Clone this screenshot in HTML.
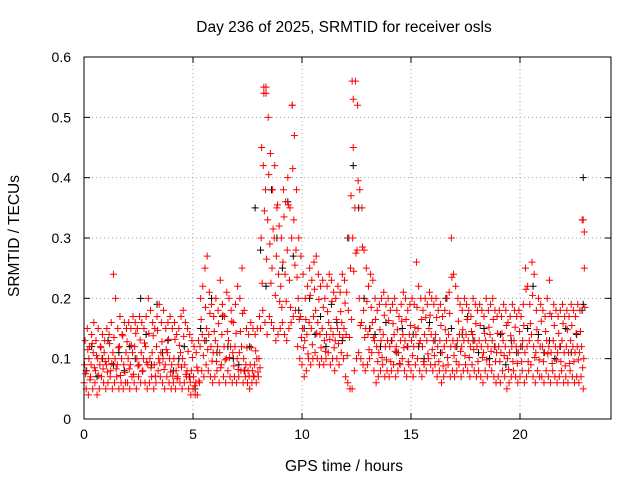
<!DOCTYPE html>
<html><head><meta charset="utf-8"><style>
body{margin:0;background:#fff}
svg{display:block;font-family:"Liberation Sans",sans-serif}
</style></head><body>
<svg id="chart" width="640" height="480" viewBox="0 0 640 480">
<rect width="640" height="480" fill="#fff"/>
<text x="344" y="32" font-size="15.5" text-anchor="middle">Day 236 of 2025, SRMTID for receiver osls</text>
<text x="344" y="471" font-size="15.5" text-anchor="middle">GPS time / hours</text>
<text x="0" y="0" font-size="15.5" text-anchor="middle" transform="translate(19,236) rotate(-90)">SRMTID / TECUs</text>
<g id="grid"></g>
<g id="axes"></g>
<g id="black" stroke="#000" stroke-width="1"></g>
<g id="red" stroke="#f00" stroke-width="1"></g>
<rect x="84" y="57" width="527" height="362" fill="none" stroke="#000" stroke-width="1"/>
</svg>
<script>
const xTicks=[0,5,10,15,20];
const yTicks=[0,0.1,0.2,0.3,0.4,0.5,0.6];
const yTickLabels=["0","0.1","0.2","0.3","0.4","0.5","0.6"];
const redLow=[.06,.05,.04,.07,.05,.06,.04,.05,.07,.06,
.05,.06,.07,.05,.06,.07,.05,.06,.05,.06,
.06,.05,.07,.06,.05,.07,.06,.08,.06,.05,
.06,.07,.05,.06,.08,.07,.06,.05,.07,.06,
.05,.06,.05,.07,.06,.05,.06,.07,.05,.04,
.05,.04,.04,.06,.08,.07,.09,.08,.07,.06,
.07,.08,.06,.09,.07,.06,.08,.07,.06,.07,
.06,.07,.08,.06,.07,.06,.05,.06,.07,.06,
.07,.15,.18,.16,.14,.17,.16,.15,.13,.14,
.15,.16,.14,.13,.15,.16,.17,.18,.12,.10,
.09,.07,.08,.10,.09,.10,.11,.10,.09,.10,
.09,.10,.11,.09,.10,.08,.10,.09,.11,.10,
.07,.06,.05,.05,.08,.10,.11,.10,.09,.08,
.09,.10,.11,.08,.06,.07,.08,.09,.07,.08,
.07,.08,.09,.07,.08,.09,.10,.08,.07,.09,
.08,.07,.09,.10,.08,.07,.09,.08,.10,.09,
.08,.09,.07,.08,.06,.07,.08,.09,.07,.08,
.07,.08,.09,.07,.08,.09,.08,.07,.09,.08,
.07,.08,.07,.06,.08,.07,.09,.08,.07,.06,
.07,.06,.08,.07,.05,.06,.07,.08,.07,.06,
.07,.08,.06,.07,.08,.09,.07,.06,.08,.07,
.07,.06,.08,.07,.06,.08,.07,.06,.07,.08,
.06,.07,.06,.08,.07,.06,.07,.06,.07,.05];
const redMid=[.09,.08,.10,.09,.11,.08,.10,.09,.10,.11,
.09,.10,.08,.11,.10,.09,.12,.10,.09,.11,
.10,.09,.11,.12,.10,.09,.11,.10,.12,.09,
.10,.11,.09,.12,.10,.11,.10,.09,.11,.10,
.09,.10,.08,.09,.11,.10,.09,.08,.07,.08,
.07,.06,.08,.12,.14,.13,.15,.14,.12,.11,
.13,.12,.11,.14,.12,.10,.13,.12,.11,.12,
.10,.11,.12,.10,.09,.08,.09,.08,.09,.10,
.10,.30,.42,.38,.33,.29,.25,.30,.27,.24,
.22,.26,.24,.28,.23,.30,.33,.28,.20,.17,
.15,.13,.14,.16,.15,.17,.18,.16,.14,.15,
.13,.14,.16,.15,.14,.13,.15,.14,.16,.15,
.14,.18,.25,.30,.35,.28,.20,.16,.18,.15,
.14,.15,.16,.13,.12,.11,.13,.14,.12,.13,
.12,.13,.14,.12,.11,.13,.14,.13,.12,.14,
.13,.12,.14,.15,.13,.12,.14,.13,.15,.14,
.13,.14,.12,.13,.11,.12,.13,.14,.12,.13,
.12,.13,.14,.12,.13,.14,.13,.12,.14,.13,
.12,.13,.12,.11,.13,.12,.14,.13,.12,.11,
.12,.11,.13,.12,.10,.11,.12,.13,.12,.11,
.12,.13,.11,.12,.13,.14,.12,.11,.13,.12,
.12,.11,.13,.12,.11,.13,.12,.11,.12,.13,
.11,.12,.11,.13,.12,.11,.12,.11,.12,.10];
const redHigh=[.13,.15,.12,.14,.16,.13,.15,.12,.14,.13,
.15,.14,.16,.24,.20,.15,.17,.14,.16,.15,
.16,.15,.17,.16,.15,.17,.16,.15,.17,.20,
.18,.16,.15,.17,.19,.16,.18,.15,.16,.17,
.15,.16,.14,.15,.17,.18,.16,.15,.14,.13,
.12,.11,.13,.20,.22,.25,.27,.21,.19,.17,
.20,.18,.23,.19,.17,.21,.20,.18,.16,.19,
.22,.20,.25,.18,.15,.14,.16,.15,.14,.15,
.17,.45,.55,.54,.50,.44,.38,.42,.35,.32,
.30,.38,.36,.40,.35,.52,.47,.38,.30,.27,
.24,.20,.22,.25,.23,.26,.27,.24,.22,.23,
.20,.22,.24,.23,.21,.20,.22,.21,.24,.23,
.21,.30,.37,.45,.56,.52,.38,.35,.28,.25,
.22,.24,.23,.20,.18,.19,.20,.21,.19,.20,
.18,.19,.20,.18,.17,.19,.21,.20,.18,.19,
.20,.19,.26,.22,.20,.18,.20,.19,.21,.20,
.19,.20,.18,.19,.17,.18,.20,.21,.30,.24,
.22,.20,.19,.18,.20,.19,.18,.17,.20,.19,
.18,.19,.18,.17,.20,.18,.19,.20,.18,.17,
.18,.17,.19,.18,.16,.17,.19,.18,.17,.18,
.17,.19,.25,.22,.19,.26,.24,.18,.20,.19,
.18,.17,.20,.23,.17,.19,.18,.17,.18,.19,
.17,.18,.17,.19,.18,.17,.19,.18,.33,.25];
const redQ=[.075,.115,.065,.125,.085,.105,.072,.118,.083,.095,
.078,.125,.092,.135,.083,.118,.072,.138,.077,.128,
.083,.122,.074,.142,.088,.131,.079,.126,.094,.142,
.085,.138,.071,.147,.093,.128,.082,.115,.132,.078,
.071,.132,.067,.122,.086,.137,.074,.112,.061,.102,
.055,.086,.063,.165,.105,.185,.115,.175,.096,.145,
.095,.158,.085,.172,.098,.145,.102,.162,.088,.142,
.082,.145,.175,.081,.118,.071,.118,.071,.113,.078,
.085,.225,.345,.265,.405,.225,.315,.205,.355,.195,
.185,.335,.195,.355,.185,.415,.255,.235,.165,.135,
.118,.165,.108,.205,.123,.215,.142,.198,.118,.185,
.112,.178,.132,.195,.118,.165,.125,.178,.135,.192,
.105,.135,.165,.245,.275,.395,.155,.285,.135,.195,
.115,.185,.135,.165,.095,.148,.102,.172,.098,.163,
.095,.158,.112,.148,.092,.162,.118,.165,.095,.155,
.105,.152,.185,.125,.165,.095,.168,.108,.172,.115,
.105,.168,.095,.155,.088,.148,.102,.175,.235,.105,
.095,.162,.112,.148,.105,.165,.102,.145,.115,.158,
.095,.155,.102,.142,.098,.152,.112,.165,.095,.142,
.095,.142,.105,.155,.082,.138,.095,.152,.092,.145,
.095,.155,.215,.095,.158,.205,.102,.148,.098,.162,
.095,.145,.108,.175,.092,.155,.098,.142,.095,.158,
.088,.148,.092,.155,.095,.142,.098,.145,.085,.185];
const blackV=[.08,.12,.07,.10,.13,.09,.11,.08,.12,.10,.20,.14,.09,.19,.11,.13,.08,.10,.12,.07,
.05,.15,.13,.20,.11,.17,.12,.10,.09,.08,.12,.35,.28,.22,.38,.30,.25,.36,.27,.18,
.15,.20,.14,.17,.12,.19,.16,.13,.30,.42,.35,.20,.15,.14,.12,.16,.13,.11,.15,.12,
.14,.12,.10,.16,.13,.11,.20,.15,.12,.14,.17,.13,.11,.15,.10,.12,.14,.09,.13,.11,
.12,.15,.22,.14,.11,.13,.10,.12,.15,.11,.14,.18];
const blackSpikeT=[22.9,22.9];
const blackSpikeV=[0.40,0.19];
const redSpikeT=[8.25,8.35,9.55,12.3,12.35,22.9,22.95];
const redSpikeV=[0.54,0.55,0.52,0.56,0.53,0.33,0.31];

const X=t=>84+t*21.8, Y=v=>419-v*603.3;
const NS="http://www.w3.org/2000/svg";
function mk(tag,attrs,parent){const e=document.createElementNS(NS,tag);for(const k in attrs)e.setAttribute(k,attrs[k]);parent.appendChild(e);return e;}
const grid=document.getElementById('grid'),axes=document.getElementById('axes');
xTicks.forEach(t=>{
  const x=X(t);
  if(t>0){const g=mk('line',{x1:x,x2:x,y1:57,y2:419,stroke:'#a0a0a0','stroke-dasharray':'1,3'},grid);
  
  }
  mk('line',{x1:x,x2:x,y1:419,y2:413,stroke:'#000'},axes);
  mk('line',{x1:x,x2:x,y1:57,y2:63,stroke:'#000'},axes);
  const l=mk('text',{x:x,y:439,'font-size':14,'text-anchor':'middle'},axes);l.textContent=t;
  
  
});
yTicks.forEach((v,i)=>{
  const y=Y(v);
  if(i>0&&i<yTicks.length-1){const g=mk('line',{x1:84,x2:611,y1:y,y2:y,stroke:'#a0a0a0','stroke-dasharray':'1,3'},grid);
  
  }
  mk('line',{x1:84,x2:90,y1:y,y2:y,stroke:'#000'},axes);
  mk('line',{x1:605,x2:611,y1:y,y2:y,stroke:'#000'},axes);
  const l=mk('text',{x:71,y:y+5,'font-size':14,'text-anchor':'end'},axes);l.textContent=yTickLabels[i];
  
  
});
function plus(g,t,v,name){
  const x=X(t),y=Y(v);
  const p=mk('path',{d:`M${x-3.5},${y}h7M${x},${y-3.5}v7`},g);
  
  
}
const bg=document.getElementById('black'),rg=document.getElementById('red');
blackV.forEach((v,i)=>plus(bg,i*0.25+0.1,v,'black-point'));
blackSpikeT.forEach((t,i)=>plus(bg,t,blackSpikeV[i],'black-point'));
[redLow,redMid,redHigh,redQ].forEach((arr,k)=>arr.forEach((v,i)=>plus(rg,i*0.1+k*0.025,v,'red-point')));
redSpikeT.forEach((t,i)=>plus(rg,t,redSpikeV[i],'red-point'));
</script>
</body></html>
